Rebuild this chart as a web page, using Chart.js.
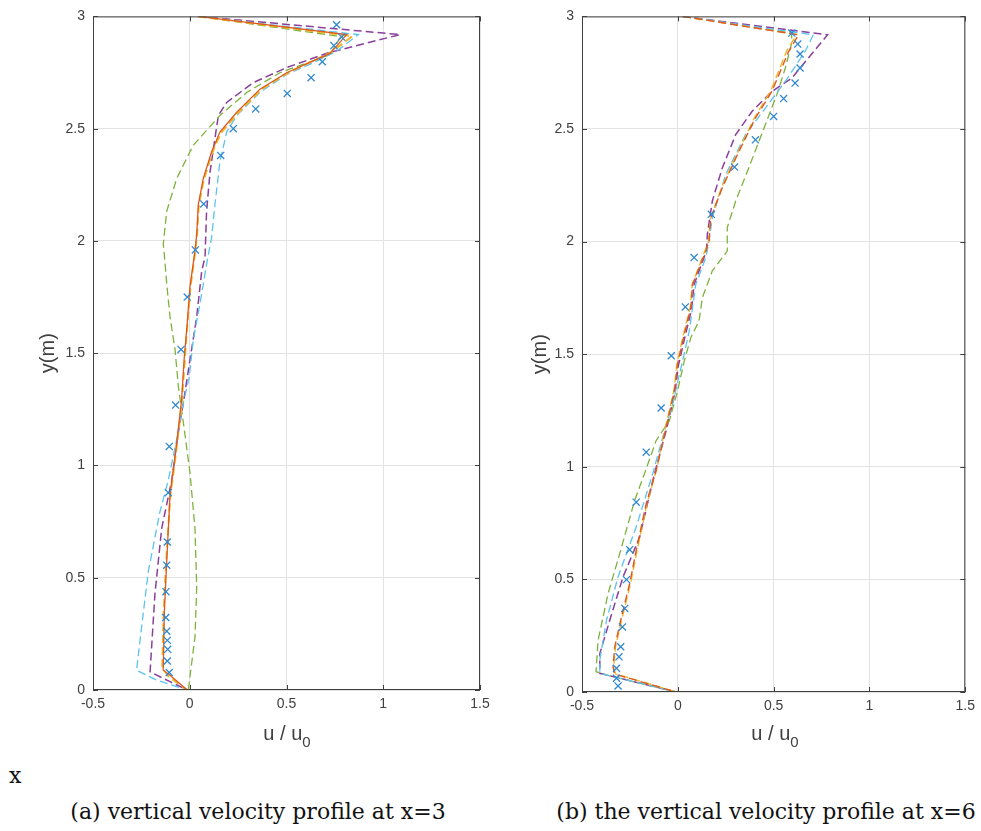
<!DOCTYPE html>
<html>
<head>
<meta charset="utf-8">
<script src="https://cdn.jsdelivr.net/npm/chart.js@4.4.1/dist/chart.umd.min.js"></script>
<style>
  body { margin: 0; background: #fff; width: 981px; height: 831px; position: relative; overflow: hidden; }
  canvas { position: absolute; top: 0; }
  .xtitle { position: absolute; font: 20px "Liberation Sans", Arial, sans-serif; color: #404040; transform: translateX(-50%); white-space: nowrap; }
  .xtitle sub { font-size: 15px; vertical-align: -7px; }
  .cap { position: absolute; font: 22px "DejaVu Serif", "Liberation Serif", serif; color: #111; white-space: nowrap; }
</style>
</head>
<body>
<canvas id="chartA" style="left:0px"></canvas>
<canvas id="chartB" style="left:490px"></canvas>
<div class="xtitle" style="left:287px; top:722px">u / u<sub>0</sub></div>
<div class="xtitle" style="left:775px; top:722px">u / u<sub>0</sub></div>
<div class="cap" style="left:9px; top:763px">x</div>
<div class="cap" id="capA" style="left:258px; top:799px; transform:translateX(-50%)">(a) vertical velocity profile at x=3</div>
<div class="cap" id="capB" style="left:766px; top:799px; transform:translateX(-50%)">(b) the vertical velocity profile at x=6</div>
<script>
// axis ticks
const uTicks = [-0.5, 0, 0.5, 1, 1.5];
const yTicks = [0, 0.5, 1, 1.5, 2, 2.5, 3];

// (a) profile at x=3, pairs of [u/u0, y]
const a_measured = [[0.759,2.963],[0.785,2.908],[0.745,2.870],[0.685,2.798],[0.627,2.727],[0.504,2.657],[0.341,2.588],[0.225,2.500],[0.160,2.381],[0.072,2.165],[0.029,1.960],[-0.013,1.750],[-0.045,1.517],[-0.073,1.269],[-0.106,1.085],[-0.111,0.879],[-0.116,0.659],[-0.119,0.556],[-0.123,0.438],[-0.124,0.323],[-0.119,0.262],[-0.116,0.221],[-0.114,0.181],[-0.116,0.129],[-0.106,0.078]];
const a_orange = [[0.044,3],[0.811,2.919],[0.725,2.835],[0.501,2.749],[0.363,2.676],[0.243,2.573],[0.156,2.485],[0.113,2.397],[0.070,2.279],[0.044,2.161],[0.036,2.029],[0.027,1.956],[0.001,1.794],[-0.013,1.632],[-0.028,1.485],[-0.042,1.294],[-0.067,1.103],[-0.080,1.015],[-0.102,0.869],[-0.119,0.573],[-0.131,0.353],[-0.137,0.088],[-0.102,0.066],[-0.013,0]];
const a_yellow = [[0.044,3],[0.840,2.912],[0.730,2.840],[0.510,2.750],[0.370,2.675],[0.250,2.570],[0.160,2.480],[0.115,2.390],[0.072,2.270],[0.047,2.160],[0.038,2.030],[0.028,1.950],[0.003,1.790],[-0.012,1.630],[-0.025,1.480],[-0.040,1.290],[-0.065,1.100],[-0.078,1.010],[-0.100,0.870],[-0.122,0.570],[-0.135,0.350],[-0.142,0.100],[-0.110,0.060],[-0.013,0]];
const a_purple = [[0.044,3],[1.087,2.919],[0.716,2.838],[0.501,2.772],[0.328,2.705],[0.191,2.617],[0.148,2.559],[0.130,2.456],[0.105,2.308],[0.087,2.132],[0.079,1.928],[0.062,1.867],[0.036,1.662],[0.001,1.470],[-0.033,1.279],[-0.062,1.132],[-0.093,0.934],[-0.145,0.720],[-0.180,0.427],[-0.205,0.081],[-0.154,0.059],[-0.102,0.037],[-0.013,0]];
const a_green = [[0.044,3],[0.780,2.910],[0.725,2.830],[0.466,2.749],[0.294,2.661],[0.156,2.559],[0.018,2.426],[-0.067,2.279],[-0.119,2.132],[-0.137,1.985],[-0.133,1.956],[-0.119,1.809],[-0.102,1.662],[-0.076,1.515],[-0.059,1.353],[-0.033,1.191],[0.001,0.970],[0.027,0.720],[0.036,0.456],[0.027,0.235],[0.001,0.059],[-0.007,0]];
const a_cyan = [[0.044,3],[0.871,2.919],[0.759,2.845],[0.639,2.794],[0.501,2.742],[0.363,2.662],[0.243,2.559],[0.191,2.485],[0.156,2.353],[0.130,2.161],[0.113,2.015],[0.087,1.897],[0.053,1.721],[0.018,1.559],[-0.002,1.397],[-0.033,1.279],[-0.067,1.117],[-0.111,0.934],[-0.154,0.794],[-0.214,0.529],[-0.249,0.279],[-0.275,0.088],[-0.171,0.044],[-0.013,0]];

// (b) profile at x=6
const b_measured = [[0.595,2.926],[0.626,2.877],[0.638,2.833],[0.638,2.771],[0.612,2.704],[0.552,2.635],[0.500,2.556],[0.405,2.452],[0.296,2.331],[0.175,2.121],[0.085,1.929],[0.039,1.710],[-0.034,1.493],[-0.087,1.261],[-0.165,1.065],[-0.217,0.843],[-0.251,0.632],[-0.268,0.499],[-0.277,0.371],[-0.289,0.289],[-0.298,0.201],[-0.307,0.156],[-0.320,0.105],[-0.320,0.061],[-0.312,0.027]];
const b_orange = [[0.025,3],[0.630,2.918],[0.578,2.844],[0.491,2.667],[0.405,2.549],[0.319,2.401],[0.232,2.239],[0.172,2.106],[0.163,2.003],[0.146,1.958],[0.077,1.811],[0.068,1.707],[0.034,1.589],[-0.001,1.456],[-0.018,1.338],[-0.061,1.175],[-0.113,0.984],[-0.165,0.836],[-0.217,0.629],[-0.251,0.482],[-0.294,0.334],[-0.329,0.201],[-0.338,0.112],[-0.330,0.080],[-0.009,0]];
const b_yellow = [[0.025,3],[0.620,2.920],[0.570,2.850],[0.485,2.670],[0.400,2.550],[0.315,2.400],[0.228,2.240],[0.170,2.100],[0.160,2.000],[0.142,1.960],[0.075,1.810],[0.065,1.710],[0.030,1.590],[-0.004,1.460],[-0.020,1.340],[-0.064,1.180],[-0.110,0.990],[-0.160,0.840],[-0.212,0.630],[-0.247,0.480],[-0.290,0.330],[-0.325,0.200],[-0.335,0.110],[-0.325,0.080],[-0.005,0]];
const b_purple = [[0.025,3],[0.781,2.918],[0.681,2.815],[0.595,2.726],[0.491,2.667],[0.388,2.579],[0.302,2.475],[0.232,2.327],[0.180,2.180],[0.154,2.032],[0.150,1.960],[0.085,1.810],[0.072,1.700],[0.038,1.580],[0.003,1.450],[-0.015,1.330],[-0.058,1.170],[-0.122,0.969],[-0.199,0.688],[-0.286,0.511],[-0.355,0.319],[-0.407,0.171],[-0.407,0.083],[-0.009,0]];
const b_green = [[0.025,3],[0.595,2.926],[0.592,2.874],[0.561,2.771],[0.517,2.653],[0.457,2.520],[0.370,2.327],[0.302,2.180],[0.258,2.062],[0.258,1.958],[0.180,1.870],[0.128,1.751],[0.111,1.648],[0.068,1.574],[0.034,1.471],[-0.001,1.338],[-0.044,1.205],[-0.113,1.117],[-0.174,0.969],[-0.225,0.851],[-0.303,0.615],[-0.364,0.437],[-0.416,0.230],[-0.427,0.090],[-0.338,0.068],[-0.009,0]];
const b_cyan = [[0.025,3],[0.707,2.918],[0.664,2.844],[0.561,2.712],[0.457,2.593],[0.353,2.475],[0.250,2.298],[0.180,2.106],[0.163,2.003],[0.146,1.929],[0.094,1.811],[0.060,1.604],[0.017,1.441],[-0.027,1.279],[-0.079,1.131],[-0.131,0.969],[-0.217,0.733],[-0.312,0.511],[-0.372,0.319],[-0.407,0.142],[-0.407,0.083],[-0.009,0]];

const BLUE = "#2f88d0", ORANGE = "#db5a22", YELLOW = "#efb62e", PURPLE = "#8a3f9c", GREEN = "#7fb23c", CYAN = "#5cc3ef";
const AXIS = "#404040";

const toXY = (arr) => arr.map((p) => ({ x: p[0], y: p[1] }));

// box + inward tick marks like matlab
const framePlugin = {
  id: "frame",
  afterDraw(chart) {
    const { ctx, chartArea: a, scales } = chart;
    ctx.save();
    ctx.strokeStyle = AXIS;
    ctx.lineWidth = 1;
    ctx.strokeRect(a.left + 0.5, a.top + 0.5, a.right - a.left - 1, a.bottom - a.top - 1);
    ctx.beginPath();
    uTicks.forEach((v) => {
      const px = Math.round(scales.x.getPixelForValue(v)) + 0.5;
      ctx.moveTo(px, a.bottom); ctx.lineTo(px, a.bottom - 5);
      ctx.moveTo(px, a.top); ctx.lineTo(px, a.top + 5);
    });
    yTicks.forEach((v) => {
      const py = Math.round(scales.y.getPixelForValue(v)) + 0.5;
      ctx.moveTo(a.left, py); ctx.lineTo(a.left + 5, py);
      ctx.moveTo(a.right, py); ctx.lineTo(a.right - 5, py);
    });
    ctx.stroke();
    ctx.restore();
  },
};

function lineSet(data, color, solid, width) {
  return {
    data: toXY(data),
    showLine: true,
    borderColor: color,
    borderWidth: width || 1.3,
    borderDash: solid ? [] : [8, 4],
    pointRadius: 0,
    tension: 0,
    fill: false,
  };
}

function makeChart(id, w, h, pad, yWidth, yTitlePad, sets) {
  const cv = document.getElementById(id);
  cv.width = w; cv.height = h;
  cv.style.width = w + "px"; cv.style.height = h + "px";
  return new Chart(cv.getContext("2d"), {
    type: "scatter",
    data: { datasets: sets },
    options: {
      responsive: false,
      animation: false,
      devicePixelRatio: 1,
      layout: { padding: pad },
      plugins: { legend: { display: false }, tooltip: { enabled: false } },
      scales: {
        x: {
          type: "linear",
          min: -0.5, max: 1.5,
          afterBuildTicks: (s) => { s.ticks = uTicks.map((v) => ({ value: v })); },
          afterFit: (s) => { s.height = 70; },
          grid: { color: "#e3e3e3", drawTicks: false },
          border: { display: false },
          ticks: { padding: 6, color: AXIS, font: { family: "Liberation Sans", size: 14 }, maxRotation: 0, callback: (v) => String(v) },
        },
        y: {
          type: "linear",
          min: 0, max: 3,
          afterBuildTicks: (s) => { s.ticks = yTicks.map((v) => ({ value: v })); },
          afterFit: (s) => { s.width = yWidth; },
          grid: { color: "#e3e3e3", drawTicks: false },
          border: { display: false },
          ticks: { padding: 8, color: AXIS, font: { family: "Liberation Sans", size: 14 }, callback: (v) => String(v) },
          title: { display: true, text: "y(m)", color: AXIS, font: { family: "Liberation Sans", size: 20 }, padding: { top: yTitlePad, bottom: 0 } },
        },
      },
    },
    plugins: [framePlugin],
  });
}

const markerSet = (data) => ({
  data: toXY(data),
  showLine: false,
  pointStyle: "crossRot",
  pointRadius: 5,
  borderColor: BLUE,
  borderWidth: 1.3,
  backgroundColor: BLUE,
});

makeChart("chartA", 500, 760, { top: 10, right: 20, left: 0, bottom: 0 }, 93, 36, [
  markerSet(a_measured),
  lineSet(a_orange, ORANGE, true, 1.3),
  lineSet(a_yellow, YELLOW, false, 2),
  lineSet(a_cyan, CYAN, false),
  lineSet(a_green, GREEN, false),
  lineSet(a_purple, PURPLE, false, 1.5),
]);

makeChart("chartB", 491, 762, { top: 15, right: 13, left: 0, bottom: 0 }, 92, 38, [
  markerSet(b_measured),
  lineSet(b_orange, ORANGE, false, 1.4),
  lineSet(b_yellow, YELLOW, false, 1.4),
  lineSet(b_cyan, CYAN, false),
  lineSet(b_green, GREEN, false),
  lineSet(b_purple, PURPLE, false, 1.5),
]);
</script>
</body>
</html>
